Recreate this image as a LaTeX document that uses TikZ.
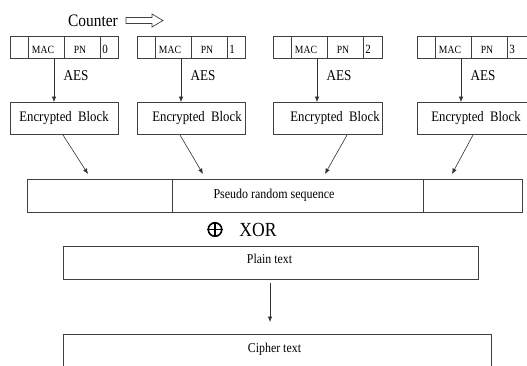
\documentclass[tikz,border=0pt]{standalone}
\usepackage{fontspec}
\setmainfont[FakeStretch=0.88]{Liberation Serif}
\usetikzlibrary{arrows.meta}
\begin{document}
\begin{tikzpicture}[x=1pt,y=-1pt,
  box/.style={draw=black!75,line width=0.6pt},
  arr/.style={draw=black!80,line width=0.6pt,-{Latex[length=5.5pt,width=4.5pt]}},
  txt/.style={inner sep=0pt,anchor=base},
  cell/.style={txt,font=\fontsize{11}{12}\selectfont},
  digit/.style={txt,font=\fontsize{12.5}{13}\selectfont},
  enc/.style={txt,font=\fontsize{14.5}{16}\selectfont},
  body/.style={txt,font=\fontsize{13.5}{15}\selectfont}]
\useasboundingbox (0,0) rectangle (527,365);
\clip (0,0) rectangle (527,365);

% counter label and hollow arrow
\node[txt,font=\fontsize{17.5}{19}\selectfont] (counter) at (93,26) {Counter};
\draw[box,line width=0.7pt] (126,17.5) -- (152,17.5) -- (152,14) -- (163,20.5) -- (152,27) -- (152,23.5) -- (126,23.5) -- cycle;

% four counter blocks, AES steps and encrypted blocks
\foreach \i/\x/\dx/\rw in {0/10/54/108, 1/137/60/108, 2/273/62/109, 3/417/59/130}{
  \draw[box] (\x,36) rectangle (\x+\rw,58);
  \draw[box] (\x+18,36) -- (\x+18,58);
  \draw[box] (\x+54,36) -- (\x+54,58);
  \draw[box] (\x+90,36) -- (\x+90,58);
  \node[cell] (mac\i) at (\x+33,53) {MAC};
  \node[cell] (pn\i) at (\x+70,53) {PN};
  \node[digit] (ctr\i) at (\x+95,53) {\i};
  \coordinate (src\i) at (\x+44,58);
  \coordinate (dst\i) at (\x+44,102);
  \draw[arr] (src\i) -- (dst\i);
  \node[txt,font=\fontsize{15}{16}\selectfont] (aes\i) at (\x+66,80) {AES};
  \draw[box] (\x,102) rectangle (\x+\rw,134);
  \node[enc] (eb\i) at (\x+\dx,121) {Encrypted\ \ Block};
}

% pseudo random sequence
\draw[box] (27,179) rectangle (522,212);
\draw[box] (172,179) -- (172,212);
\draw[box] (423,179) -- (423,212);
\node[body,font=\fontsize{13.6}{15}\selectfont] (prs) at (274,198) {Pseudo random sequence};

% keystream arrows
\coordinate (a0) at (63,135);   \coordinate (b0) at (88,174);
\coordinate (a1) at (180,135);  \coordinate (b1) at (203,174);
\coordinate (a2) at (347,135);  \coordinate (b2) at (325,174);
\coordinate (a3) at (473,135);  \coordinate (b3) at (452,174);
\foreach \i in {0,1,2,3}{ \draw[arr] (a\i) -- (b\i); }

% XOR
\node[draw=black,line width=1.6pt,circle,minimum size=13.5pt,inner sep=0pt] (xor) at (215,229.5) {};
\draw[line width=1.6pt] (xor.north) -- (xor.south) (xor.west) -- (xor.east);
\node[txt,font=\fontsize{20}{21}\selectfont] (xortxt) at (258,236) {XOR};

% plain text and cipher text
\draw[box] (63,246) rectangle (478,279);
\node[body] (plain) at (269.5,263) {Plain text};
\coordinate (p1) at (270,283);
\coordinate (p2) at (270,322);
\draw[arr] (p1) -- (p2);
\draw[box] (63,334) rectangle (491,380);
\node[body] (cipher) at (274.5,352) {Cipher text};
\end{tikzpicture}
\end{document}
